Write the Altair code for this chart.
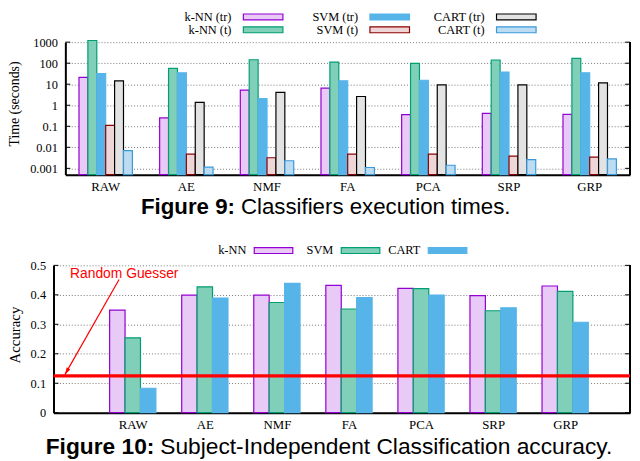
import altair as alt
import pandas as pd

# ---------------- data ----------------
methods = ["RAW", "AE", "NMF", "FA", "PCA", "SRP", "GRP"]

time_series = ["k-NN (tr)", "k-NN (t)", "SVM (tr)", "SVM (t)", "CART (tr)", "CART (t)"]
knn_tr = [21, 0.25, 5.2, 6.5, 0.36, 0.41, 0.37]
knn_t = [1200, 57, 146, 113, 98, 142, 168]
svm_tr = [32, 35, 2.1, 14.5, 15.4, 38, 35]
svm_t = [0.11, 0.0047, 0.0032, 0.0047, 0.0047, 0.0038, 0.0034]
cart_tr = [14.5, 1.38, 4.1, 2.6, 9.3, 9.3, 11.7]
cart_t = [0.0069, 0.00114, 0.0023, 0.0011, 0.0014, 0.0026, 0.0028]
time_ticks = [0.001, 0.01, 0.1, 1, 10, 100, 1000]

acc_series = ["k-NN", "SVM", "CART"]
acc_knn = [0.348, 0.399, 0.399, 0.432, 0.422, 0.397, 0.430]
acc_svm = [0.254, 0.427, 0.374, 0.352, 0.421, 0.346, 0.412]
acc_cart = [0.083, 0.389, 0.439, 0.391, 0.399, 0.356, 0.307]
acc_ticks = [0, 0.1, 0.2, 0.3, 0.4, 0.5]
random_guess = 0.125
guess_label = ["Random Guesser"]

caption9 = ["Figure 9:", "Classifiers execution times."]
caption10 = ["Figure 10:", "Subject-Independent Classification accuracy."]

# ---------------- tables ----------------
time_vals = dict(zip(time_series, [knn_tr, knn_t, svm_tr, svm_t, cart_tr, cart_t]))
tdf = pd.DataFrame([{"method": m, "series": s, "value": v}
                    for s in time_series for m, v in zip(methods, time_vals[s])])
acc_vals = dict(zip(acc_series, [acc_knn, acc_svm, acc_cart]))
adf = pd.DataFrame([{"method": m, "mi": i, "series": s, "si": j, "value": v}
                    for j, s in enumerate(acc_series)
                    for i, (m, v) in enumerate(zip(methods, acc_vals[s]))])

# ---------------- style ----------------
SERIF = "Liberation Serif"
SANS = "Liberation Sans"
W1, H1 = 571, 134
W2, H2 = 583, 149
YMIN = 0.0005
BW = 0.214  # bar width in cluster units (bottom chart)

time_stroke = ["#9400D3", "#009E73", "#56B4E9", "#8B0000", "#000000", "#3A9AD9"]
time_fill = ["#E9C9F5", "#80CFB9", "#56B4E9", "#EFD6D6", "#E3E3E3", "#BBDCF3"]
acc_stroke = ["#9400D3", "#009E73", "#56B4E9"]
acc_fill = ["#E9C9F5", "#80CFB9", "#56B4E9"]

fill1 = alt.Fill("series:N", scale=alt.Scale(domain=time_series, range=time_fill), legend=None)
stroke1 = alt.Stroke("series:N", scale=alt.Scale(domain=time_series, range=time_stroke), legend=None)
fill2 = alt.Fill("series:N", scale=alt.Scale(domain=acc_series, range=acc_fill), legend=None)
stroke2 = alt.Stroke("series:N", scale=alt.Scale(domain=acc_series, range=acc_stroke), legend=None)


def xaxis(**kw):
    return alt.Axis(labelAngle=0, ticks=False, tickSize=0, labelPadding=6, labelFont=SERIF,
                    labelFontSize=13, labelColor="black", domainColor="black", domainWidth=2,
                    grid=False, title=None, **kw)


def yaxis(values, title, tx, ty, tsize):
    return alt.Axis(values=values, format="~g", ticks=False, tickSize=0, labelPadding=8,
                    labelFont=SERIF, labelFontSize=12.5, labelColor="black", labelOverlap=False,
                    domainColor="black", domainWidth=2, grid=True, gridColor="#555",
                    gridDash=[1, 2], gridWidth=0.8, title=title, titleFont=SERIF,
                    titleFontSize=tsize, titleFontWeight="normal", titleColor="black",
                    titleX=tx, titleY=ty, titleAngle=270, titleBaseline="middle",
                    titleAlign="center")


# ---------------- top chart ----------------
ylog = alt.Scale(type="log", domain=[YMIN, 1000], nice=False)
ax_y1 = yaxis(time_ticks, "Time (seconds)", -51, 62, 14)
offset_dom1 = ["_l"] + time_series + ["_r"]
bars1 = alt.Chart(tdf).mark_bar(strokeWidth=1.2, opacity=1).encode(
    x=alt.X("method:N", sort=methods, scale=alt.Scale(paddingInner=0, paddingOuter=0), axis=xaxis()),
    xOffset=alt.XOffset("series:N", scale=alt.Scale(domain=offset_dom1, paddingInner=0, paddingOuter=0.53)),
    y=alt.Y("value:Q", scale=ylog, axis=ax_y1),
    y2=alt.datum(YMIN),
    fill=fill1, stroke=stroke1,
)

tick1 = pd.DataFrame({"t": time_ticks})
ltick1 = alt.Chart(tick1).mark_rule(color="black", strokeWidth=1).encode(
    y=alt.Y("t:Q", scale=ylog, axis=ax_y1), x=alt.value(0), x2=alt.value(5))
rtick1 = alt.Chart(tick1).mark_rule(color="black", strokeWidth=1).encode(
    y=alt.Y("t:Q", scale=ylog, axis=ax_y1), x=alt.value(W1 - 5), x2=alt.value(W1))
rborder1 = alt.Chart(tick1).mark_rule(color="black", strokeWidth=1.2).encode(
    x=alt.value(W1), y=alt.value(0), y2=alt.value(H1))

leg1 = pd.DataFrame({"series": time_series, "idx": list(range(len(time_series)))})
lbase1 = alt.Chart(leg1).transform_calculate(
    sx="180 + 128*floor(datum.idx/2)", sx2="datum.sx + 40", tx="datum.sx - 12",
    sy="-25.5 + 13*(datum.idx % 2)", sy1="datum.sy - 3", sy2="datum.sy + 3")
lsw1 = lbase1.mark_rect(strokeWidth=1.2, opacity=1).encode(
    x=alt.X("sx:Q", scale=None), x2="sx2:Q", y=alt.Y("sy1:Q", scale=None), y2="sy2:Q",
    fill=fill1, stroke=stroke1)
ltx1 = lbase1.mark_text(align="right", baseline="middle", font=SERIF, fontSize=12.5, color="black").encode(
    x=alt.X("tx:Q", scale=None), y=alt.Y("sy:Q", scale=None), text="series:N")

cap9a = alt.Chart(pd.DataFrame({"t": [caption9[0]]})).mark_text(
    align="right", baseline="middle", font=SANS, fontSize=22.5, fontWeight="bold", color="black").encode(
    x=alt.value(171.5), y=alt.value(H1 + 32.5), text="t:N")
cap9b = alt.Chart(pd.DataFrame({"t": [caption9[1]]})).mark_text(
    align="left", baseline="middle", font=SANS, fontSize=22.5, color="black").encode(
    x=alt.value(177.5), y=alt.value(H1 + 32.5), text="t:N")

top = alt.layer(bars1, ltick1, rtick1, rborder1, lsw1, ltx1, cap9a, cap9b).properties(width=W1, height=H1)

spacer = alt.Chart(pd.DataFrame({"a": [0]})).mark_text(text="").encode(
    x=alt.value(0), y=alt.value(0)).properties(width=12, height=H1)
top_block = alt.hconcat(spacer, top, spacing=0, bounds="flush")

# ---------------- bottom chart ----------------
ylin = alt.Scale(domain=[0, 0.5], nice=False)
xq = alt.Scale(domain=[-1.1, 6.9], nice=False, zero=False)
label_expr = "[" + ",".join("'%s'" % m for m in methods) + "][datum.value]"
ax_y2 = yaxis(acc_ticks, "Accuracy", -39, 70, 15)
ax_x2 = xaxis(values=list(range(len(methods))), labelExpr=label_expr, labelFlush=False, labelOverlap=False)

bars2 = alt.Chart(adf).transform_calculate(
    bx="datum.mi + (datum.si - 1.5)*%g" % BW, bx2="datum.bx + %g" % BW
).mark_bar(strokeWidth=1.2, opacity=1).encode(
    x=alt.X("bx:Q", scale=xq, axis=ax_x2),
    x2="bx2:Q",
    y=alt.Y("value:Q", scale=ylin, axis=ax_y2),
    y2=alt.datum(0),
    fill=fill2, stroke=stroke2,
)

guess = alt.Chart(pd.DataFrame({"g": [random_guess]})).mark_rule(color="#FF0000", strokeWidth=3.5).encode(
    y=alt.Y("g:Q", scale=ylin, axis=ax_y2))

arrow_df = pd.DataFrame({"x": [-0.19], "y": [0.452], "x2": [-0.94], "y2": [0.13]})
arrow = alt.Chart(arrow_df).mark_rule(color="#FF0000", strokeWidth=1.2).encode(
    x=alt.X("x:Q", scale=xq, axis=ax_x2), x2="x2:Q",
    y=alt.Y("y:Q", scale=ylin, axis=ax_y2), y2="y2:Q")
head = alt.Chart(arrow_df).mark_point(
    shape="M0,0L-0.6,2L0.6,2Z", filled=True, size=49, angle=210, color="#FF0000", opacity=1).encode(
    x=alt.X("x2:Q", scale=xq, axis=ax_x2), y=alt.Y("y2:Q", scale=ylin, axis=ax_y2))
gtext = alt.Chart(pd.DataFrame({"t": guess_label, "x": [-0.87], "y": [0.469]})).mark_text(
    align="left", baseline="middle", font=SANS, fontSize=14, color="#FF0000").encode(
    x=alt.X("x:Q", scale=xq, axis=ax_x2), y=alt.Y("y:Q", scale=ylin, axis=ax_y2), text="t:N")

tick2 = pd.DataFrame({"t": acc_ticks})
ltick2 = alt.Chart(tick2).mark_rule(color="black", strokeWidth=1).encode(
    y=alt.Y("t:Q", scale=ylin, axis=ax_y2), x=alt.value(0), x2=alt.value(5))
rtick2 = alt.Chart(tick2).mark_rule(color="black", strokeWidth=1).encode(
    y=alt.Y("t:Q", scale=ylin, axis=ax_y2), x=alt.value(W2 - 5), x2=alt.value(W2))
rborder2 = alt.Chart(tick2).mark_rule(color="black", strokeWidth=1.2).encode(
    x=alt.value(W2), y=alt.value(0), y2=alt.value(H2))

leg2 = pd.DataFrame({"series": acc_series, "idx": list(range(len(acc_series)))})
lbase2 = alt.Chart(leg2).transform_calculate(
    sx="203 + 88*datum.idx", sx2="datum.sx + 39", tx="datum.sx - 8",
    sy="-15", sy1="datum.sy - 3", sy2="datum.sy + 3")
lsw2 = lbase2.mark_rect(strokeWidth=1.2, opacity=1).encode(
    x=alt.X("sx:Q", scale=None), x2="sx2:Q", y=alt.Y("sy1:Q", scale=None), y2="sy2:Q",
    fill=fill2, stroke=stroke2)
ltx2 = lbase2.mark_text(align="right", baseline="middle", font=SERIF, fontSize=12.5, color="black").encode(
    x=alt.X("tx:Q", scale=None), y=alt.Y("sy:Q", scale=None), text="series:N")

cap10a = alt.Chart(pd.DataFrame({"t": [caption10[0]]})).mark_text(
    align="right", baseline="middle", font=SANS, fontSize=23, fontWeight="bold", color="black").encode(
    x=alt.value(102), y=alt.value(H2 + 35), text="t:N")
cap10b = alt.Chart(pd.DataFrame({"t": [caption10[1]]})).mark_text(
    align="left", baseline="middle", font=SANS, fontSize=23, color="black").encode(
    x=alt.value(108), y=alt.value(H2 + 35), text="t:N")

bottom = alt.layer(bars2, ltick2, rtick2, rborder2, guess, arrow, head, gtext,
                   lsw2, ltx2, cap10a, cap10b).properties(width=W2, height=H2)

chart = alt.vconcat(top_block, bottom, spacing=26.7).properties(
    padding=0).configure_view(stroke=None)

chart.save("out.html", embed_options={"renderer": "svg", "actions": False})
